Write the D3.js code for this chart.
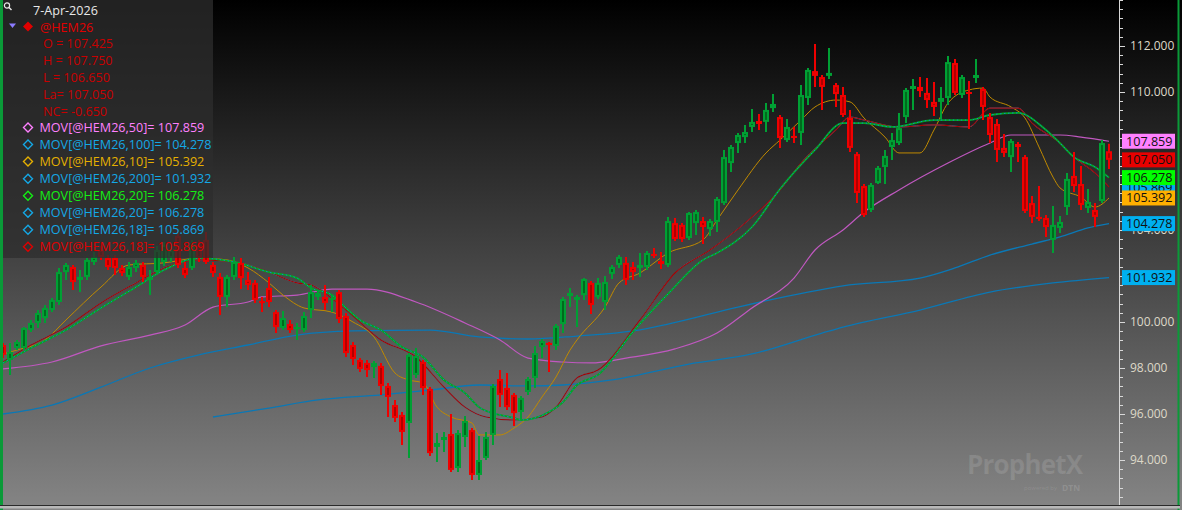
<!DOCTYPE html>
<html><head><meta charset="utf-8">
<script src="https://cdn.jsdelivr.net/npm/d3@7/dist/d3.min.js"></script>
<style>
html,body{margin:0;padding:0;background:#000;overflow:hidden}
svg{display:block}
text{font-family:"Open Sans","Noto Sans",sans-serif}
</style></head><body>
<svg id="c" width="1182" height="510"></svg>
<script>
// ---------- DATA ----------
const opens = [99.00,98.35,98.87,98.87,99.65,99.96,100.17,100.52,100.87,102.17,102.39,101.83,101.96,102.61,103.13,102.78,102.78,102.35,101.96,102.35,
102.48,101.83,102.17,102.61,102.78,103.74,102.35,102.35,103.35,103.57,102.48,101.96,101.09,101.96,102.57,101.83,101.70,100.91,101.48,100.43,
99.74,99.91,99.74,99.65,100.52,101.09,101.09,100.96,101.30,100.26,99.00,98.35,98.22,98.04,98.09,97.22,96.39,95.96,95.61,97.70,
98.26,97.09,94.57,94.87,95.13,93.65,95.00,95.30,93.35,94.09,95.09,97.52,97.13,96.83,96.09,96.96,97.57,98.91,99.09,98.96,
99.91,101.13,100.96,101.17,101.70,101.09,100.87,102.09,102.48,102.57,102.39,102.35,102.39,102.96,102.65,102.48,104.30,104.22,103.65,104.30,
104.39,104.04,104.35,105.17,106.91,107.78,108.04,108.48,108.74,108.70,109.30,108.91,107.91,108.09,108.22,109.74,110.91,110.65,110.70,110.30,
109.87,108.87,107.30,105.91,104.87,106.04,106.74,107.61,107.78,108.91,110.13,110.22,109.96,109.57,109.57,109.74,111.26,109.87,110.00,110.61,
110.13,108.91,108.61,107.57,107.17,107.74,107.17,105.17,104.57,104.52,103.57,104.09,105.00,106.35,106.00,104.96,104.87,105.26,107.425];
const highs = [99.09,99.09,99.22,99.78,100.09,100.52,100.74,101.04,102.35,102.57,102.48,102.26,102.78,103.04,103.30,102.91,102.91,102.48,102.61,102.70,
102.61,102.26,103.30,103.48,103.30,103.91,102.61,103.57,103.57,103.91,102.61,102.13,102.04,102.83,102.78,102.17,101.83,101.09,101.96,100.52,
100.48,100.09,99.96,100.43,101.61,101.39,101.61,101.17,101.39,100.39,99.13,98.43,98.35,98.30,98.22,97.35,96.61,96.09,98.65,98.87,
98.35,97.17,95.17,95.22,96.00,95.30,95.91,95.39,95.04,95.22,97.30,97.91,97.78,96.91,96.78,97.61,98.96,99.26,99.13,99.91,
101.09,101.48,101.17,101.91,101.78,101.91,102.00,102.48,102.91,102.83,102.61,103.00,103.09,103.22,103.04,104.57,104.52,104.30,104.78,104.87,
104.57,104.48,105.43,107.48,107.70,108.22,108.57,109.26,109.04,109.52,109.91,109.00,108.83,108.48,110.30,111.04,112.09,110.74,111.91,110.39,
110.22,109.22,107.39,106.00,106.04,106.78,107.48,108.22,109.09,110.17,110.57,110.65,110.61,110.43,110.22,111.57,111.43,110.74,110.48,111.43,
110.22,109.09,108.83,108.17,107.96,107.83,107.26,105.48,105.91,104.65,105.04,104.61,106.48,107.39,106.78,105.78,105.17,107.91,107.75];
const lows = [98.43,97.70,98.78,98.78,99.57,99.74,99.96,100.43,100.74,101.83,101.39,101.30,101.83,102.48,102.70,102.26,102.04,102.00,101.83,102.17,
101.74,101.17,102.04,102.43,102.61,102.35,101.91,102.26,102.61,102.52,101.96,100.30,100.65,101.83,101.43,101.39,100.83,100.43,100.65,99.52,
99.65,99.52,99.22,99.57,100.17,100.96,100.52,100.43,99.96,98.48,98.13,97.83,97.61,97.57,96.83,95.87,95.65,94.65,94.09,97.57,
96.83,94.17,93.91,94.35,93.48,93.48,94.57,93.13,93.13,94.00,94.65,96.30,96.17,95.48,95.74,96.83,97.13,98.43,97.83,98.78,
99.52,100.65,99.78,100.96,100.35,101.00,100.52,101.87,102.35,101.61,101.83,101.96,102.26,102.78,102.30,102.39,103.52,103.48,103.57,103.78,
103.39,103.74,103.91,105.09,106.52,107.35,107.78,108.26,108.35,108.26,109.13,107.57,107.83,107.78,107.70,109.43,110.22,109.22,110.57,109.35,
108.91,107.39,105.17,104.57,104.78,106.00,106.00,107.04,107.70,108.65,109.22,109.78,109.30,108.96,108.83,109.43,109.87,109.74,108.39,110.39,
108.78,107.78,106.96,107.17,106.52,106.96,104.74,104.30,104.39,103.70,103.00,103.87,104.65,105.65,104.87,104.74,104.13,105.17,106.65];
const closes = [98.57,98.70,99.13,99.74,99.96,100.39,100.61,100.96,102.17,102.48,101.74,101.96,102.70,102.83,102.83,102.39,102.35,102.13,102.39,102.57,
101.96,101.96,103.13,103.35,103.13,102.48,102.04,103.35,102.78,102.61,102.13,101.09,101.96,102.61,101.91,101.61,100.96,100.87,100.87,99.78,
100.17,99.65,99.78,100.26,101.30,101.26,100.83,101.04,100.13,98.65,98.39,97.96,97.91,98.22,97.22,96.74,95.83,95.22,98.57,98.52,
97.13,94.30,94.74,95.00,93.57,95.17,95.70,93.35,94.00,95.00,97.22,96.83,96.30,96.04,96.70,97.52,98.65,99.17,99.00,99.83,
101.00,101.26,101.09,101.87,100.74,101.70,101.74,102.39,102.83,101.83,102.17,102.48,103.00,102.87,102.52,104.39,103.61,103.61,104.74,104.78,
104.13,104.39,105.35,107.17,107.61,108.13,108.26,108.70,108.61,109.22,109.48,108.00,108.48,108.00,109.87,110.96,110.70,110.22,110.83,109.91,
109.00,107.57,105.61,104.65,105.96,106.70,107.22,107.91,108.43,110.09,110.26,110.04,109.65,109.35,109.74,111.30,109.96,110.65,109.96,110.74,
109.35,108.13,107.48,107.35,107.87,107.61,104.83,104.57,104.48,104.13,104.22,104.35,106.22,105.91,105.09,105.22,104.57,107.78,107.05];

// moving averages: [bar index, value]
const ma50 = [[0,97.96],[7,98.26],[14,98.96],[21,99.43],[26,99.87],[30,100.65],[35,100.87],[37,101.09],[42,101.17],[47,101.43],[52,101.43],[59,100.87],
[66,99.96],[71,99.22],[75,98.43],[80,98.26],[84,98.22],[89,98.43],[96,98.83],[102,99.52],[107,100.61],[113,101.91],[116,103.13],[120,104.00],
[123,104.78],[128,105.74],[135,106.91],[141,107.78],[144,108.13],[151,108.13],[154,108.04],[158,107.859]];
const ma100 = [[0,96.00],[7,96.39],[14,97.17],[21,98.00],[28,98.57],[35,99.00],[42,99.43],[50,99.61],[61,99.65],[68,99.35],[75,99.26],[82,99.39],
[90,99.61],[95,99.91],[105,100.65],[115,101.30],[120,101.57],[131,101.91],[136,102.35],[141,102.91],[147,103.39],[151,103.70],[155,104.09],[158,104.278]];
const ma200 = [[30,95.87],[38,96.26],[45,96.61],[54,96.83],[61,97.04],[68,97.26],[75,97.22],[80,97.26],[87,97.48],[98,98.17],[107,98.61],[117,99.52],
[120,99.78],[131,100.52],[141,101.30],[150,101.70],[158,101.932]];
const ma10 = [[0,98.61],[2,98.78],[6,99.22],[9,100.09],[14,101.52],[18,102.48],[23,102.57],[28,102.78],[32,102.70],[35,102.35],[38,101.70],[40,101.17],
[43,100.61],[47,100.43],[50,100.00],[53,99.35],[56,97.78],[58,97.48],[60,97.35],[62,96.30],[64,95.87],[67,95.61],[68,95.09],[71,95.09],[73,95.39],
[75,95.87],[77,96.74],[79,97.61],[81,98.78],[82,99.22],[86,100.65],[88,101.70],[91,102.13],[95,103.00],[100,103.57],[102,104.43],[105,105.74],
[109,107.35],[111,107.91],[114,108.78],[116,109.35],[119,109.65],[121,109.57],[123,108.87],[126,108.04],[128,107.35],[131,107.35],[133,108.35],
[135,109.52],[138,110.09],[140,110.17],[141,109.78],[144,109.35],[146,108.87],[148,107.61],[150,106.30],[151,105.83],[154,105.43],[156,105.00],[158,105.392]];
const ma20 = [[0,98.22],[4,98.87],[9,99.65],[14,100.61],[19,101.52],[23,102.26],[28,102.78],[33,102.61],[38,102.17],[42,101.91],[44,101.48],[47,101.17],
[49,100.61],[51,100.09],[54,99.65],[57,98.91],[60,98.48],[63,97.48],[66,96.91],[68,96.30],[71,95.96],[73,95.83],[74,95.74],[78,96.09],[80,96.52],
[82,97.26],[85,97.70],[90,99.57],[95,101.22],[100,102.70],[102,103.00],[107,104.13],[111,105.78],[116,107.48],[120,108.65],[123,108.65],[127,108.48],
[133,108.78],[138,108.78],[141,109.00],[145,109.09],[149,108.35],[151,107.78],[153,107.17],[156,106.74],[158,106.278]];
const ma18 = [[0,98.26],[4,99.00],[9,99.78],[14,100.83],[19,101.70],[23,102.35],[28,102.70],[33,102.61],[38,102.17],[42,101.70],[44,101.61],[49,100.52],
[54,99.22],[59,98.48],[63,97.17],[66,96.30],[69,95.87],[73,95.74],[77,95.87],[79,96.30],[82,97.57],[85,97.91],[91,100.09],[96,102.13],[101,103.13],
[106,104.30],[111,105.74],[114,106.91],[119,108.35],[121,108.91],[123,108.78],[128,108.48],[133,108.57],[138,108.48],[141,109.30],[145,109.30],
[147,108.65],[151,107.78],[153,107.17],[156,106.48],[158,105.869]];

const yMajor = [94,96,98,100,102,104,106,108,110,112];
const minorStep = 0.4;

const dateLabel = "7-Apr-2026";
const symbol = "@HEM26";
const quoteLabels = ["O = 107.425","H = 107.750","L = 106.650","La= 107.050","NC= -0.650"];
const studyNames = ["MOV[@HEM26,50]","MOV[@HEM26,100]","MOV[@HEM26,10]","MOV[@HEM26,200]","MOV[@HEM26,20]","MOV[@HEM26,20]","MOV[@HEM26,18]","MOV[@HEM26,18]"];
const studyValues = [107.859,104.278,105.392,101.932,106.278,106.278,105.869,105.869];
const studyColors = ["#ff80ff","#14a8e6","#e6b000","#14a8e6","#14f014","#14a8e6","#14a8e6","#e00000"];
const lastPrice = 107.050;

// ---------- DRAW ----------
const W = 1182, H = 510, axisX = 1119;
const svg = d3.select("#c");
const defs = svg.append("defs");
const g = defs.append("linearGradient").attr("id","bg").attr("x1",0).attr("y1",0).attr("x2",0).attr("y2",1);
g.append("stop").attr("offset","0%").attr("stop-color","#000000");
g.append("stop").attr("offset","100%").attr("stop-color","#858585");
defs.append("clipPath").attr("id","plot").append("rect").attr("x",3).attr("y",0).attr("width",axisX-3).attr("height",505);

svg.append("rect").attr("width",W).attr("height",H).attr("fill","url(#bg)");

const x = d3.scaleLinear().domain([0,158]).range([3,1109]);
const y = d3.scaleLinear().domain([100,112]).range([322,46]);

const plot = svg.append("g").attr("clip-path","url(#plot)");
const line = d3.line().x(d=>x(d[0])).y(d=>y(d[1])).curve(d3.curveMonotoneX);

function drawMA(data,color,w,dash){
  const p = plot.append("path").datum(data).attr("d",line).attr("fill","none")
    .attr("stroke",color).attr("stroke-width",w);
  if(dash) p.attr("stroke-dasharray",dash);
}
drawMA(ma200,"#0a78b6",1.3);
drawMA(ma100,"#0a78b6",1.3);
drawMA(ma50,"#c058c0",1.2);
drawMA(ma10,"#c08a00",1);
drawMA(ma18,"#14a8e6",1);
drawMA(ma18,"#a80000",1.1);
drawMA(ma20,"#00a820",1.8);
drawMA(ma20,"#1088c8",1,"1.5 2.5");

const bars = d3.range(opens.length).map(i=>({i,o:opens[i],h:highs[i],l:lows[i],c:closes[i]}));
const cg = plot.append("g");
bars.forEach(b=>{
  const up = b.c >= b.o;
  const bright = up ? "#00a034" : "#f00000";
  const dark = up ? "#006a1e" : "#b00000";
  const cx = x(b.i);
  cg.append("line").attr("x1",cx).attr("x2",cx).attr("y1",y(b.h)).attr("y2",y(b.l))
    .attr("stroke",bright).attr("stroke-width",2);
  const top = y(Math.max(b.o,b.c)), bot = y(Math.min(b.o,b.c));
  const hgt = Math.max(2, bot-top);
  cg.append("rect").attr("x",cx-3).attr("y",top).attr("width",6).attr("height",hgt).attr("fill",bright);
  if(hgt > 5) cg.append("rect").attr("x",cx-1).attr("y",top+2).attr("width",2).attr("height",hgt-4).attr("fill",dark);
});

// value tags (on the price axis)
const tags = [
  {v:studyValues[3], c:"#00b0f0"},
  {v:studyValues[1], c:"#00b0f0"},
  {v:studyValues[6], c:"#00b0f0"},
  {v:studyValues[4], c:"#00ff00"},
  {v:studyValues[2], c:"#ffb000"},
  {v:lastPrice, c:"#e80000"},
  {v:studyValues[0], c:"#ff80ff"}
];

// axis (labels fully hidden behind a value tag are not drawn)
const fmt = d3.format(".3f");
const shownMajor = yMajor.filter(v => !tags.some(t => Math.abs(t.v - v) < 0.2));
svg.append("line").attr("x1",axisX+0.5).attr("x2",axisX+0.5).attr("y1",0).attr("y2",505).attr("stroke","#d8d8d8").attr("stroke-width",1);
const minor = d3.range(Math.ceil(y.invert(505)/minorStep)*minorStep, y.invert(0), minorStep);
svg.append("g").selectAll("line").data(minor).join("line")
  .attr("x1",axisX).attr("x2",axisX+4).attr("y1",d=>Math.round(y(d))+0.5).attr("y2",d=>Math.round(y(d))+0.5)
  .attr("stroke","#d8d8d8");
const ax = svg.append("g").attr("transform",`translate(${axisX},0)`)
  .call(d3.axisRight(y).tickValues(shownMajor).tickFormat(fmt).tickSize(6).tickPadding(5));
ax.select(".domain").remove();
ax.selectAll("line").attr("stroke","#d8d8d8");
ax.selectAll("text").attr("fill","#ddd8c8").attr("font-size","12px").attr("font-family","'Open Sans',sans-serif");

const tg = svg.append("g");
tags.forEach(t=>{
  const yy = y(t.v);
  tg.append("rect").attr("x",1122).attr("y",yy-7.5).attr("width",53).attr("height",15).attr("fill",t.c);
  tg.append("text").attr("x",1126).attr("y",yy+4.5).attr("font-size","12.6px").attr("fill","#111").text(fmt(t.v));
});

// borders
svg.append("rect").attr("x",0).attr("y",0).attr("width",3).attr("height",H).attr("fill","#0a9a38");
svg.append("rect").attr("x",1177.5).attr("y",0).attr("width",2).attr("height",H).attr("fill","#0a9a38");
svg.append("rect").attr("x",0).attr("y",505).attr("width",1180).attr("height",1).attr("fill","#2a2a2a");
svg.append("rect").attr("x",0).attr("y",506).attr("width",1180).attr("height",2.5).attr("fill","#b8b8b8");

// watermark
svg.append("text").attr("x",967).attr("y",474).attr("font-size","26px").attr("font-weight","bold")
  .attr("fill","rgba(255,255,255,0.12)").attr("textLength",116).text("ProphetX");
svg.append("text").attr("x",1024).attr("y",490).attr("font-size","6px")
  .attr("fill","rgba(255,255,255,0.12)").text("powered by");
svg.append("text").attr("x",1062).attr("y",491).attr("font-size","8.5px").attr("font-weight","bold")
  .attr("fill","rgba(255,255,255,0.14)").text("DTN");

// legend
const lg = svg.append("g");
lg.append("rect").attr("x",3).attr("y",0).attr("width",210).attr("height",258).attr("fill","rgba(45,45,45,0.75)");
lg.append("circle").attr("cx",7).attr("cy",5.5).attr("r",2.6).attr("fill","none").attr("stroke","#e8e8e8").attr("stroke-width",1.2);
lg.append("line").attr("x1",9).attr("y1",7.5).attr("x2",11.5).attr("y2",10).attr("stroke","#e8e8e8").attr("stroke-width",1.4);
lg.append("text").attr("x",33).attr("y",14.5).attr("font-size","12.6px").attr("fill","#e8e8e8").text(dateLabel);
lg.append("path").attr("d","M9,23.5 L16,23.5 L12.5,28 Z").attr("fill","#8c7cff");
lg.append("path").attr("d","M28,21.5 L33,26.5 L28,31.5 L23,26.5 Z").attr("fill","#e00000");
lg.append("text").attr("x",40).attr("y",31.5).attr("font-size","12.6px").attr("fill","#e00000").text(symbol);
quoteLabels.forEach((t,k)=>{
  lg.append("text").attr("x",43).attr("y",48+17*k).attr("font-size","12.6px").attr("fill","#c80000").text(t);
});
studyNames.forEach((n,k)=>{
  const yy = 132 + 17.05*k;
  lg.append("path").attr("d",`M28,${yy-9} L32.5,${yy-4.5} L28,${yy} L23.5,${yy-4.5} Z`)
    .attr("fill","none").attr("stroke",studyColors[k]).attr("stroke-width",1.4);
  lg.append("text").attr("x",39.5).attr("y",yy).attr("font-size","12.6px").attr("fill",studyColors[k])
    .text(`${n}= ${fmt(studyValues[k])}`);
});
</script>
</body></html>
